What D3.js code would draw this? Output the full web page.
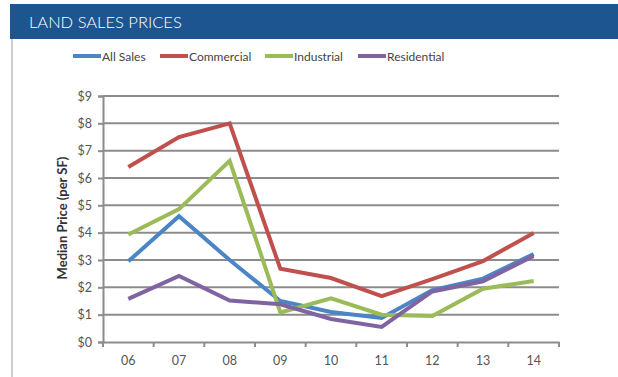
<!DOCTYPE html>
<html>
<head>
<meta charset="utf-8">
<script src="https://cdn.jsdelivr.net/npm/d3@7"></script>
<style>
  body { margin: 0; background: #fff; }
  svg { display: block; }
</style>
</head>
<body>
<div id="chart"></div>
<script>
// values
const years = ["06", "07", "08", "09", "10", "11", "12", "13", "14"];
const allSales = [2.95, 4.6, 3.0, 1.5, 1.1, 0.88, 1.9, 2.32, 3.22];
const commercial = [6.4, 7.5, 8.0, 2.68, 2.34, 1.68, 2.3, 2.96, 3.99];
const industrial = [3.93, 4.86, 6.63, 1.08, 1.6, 1.0, 0.95, 1.95, 2.23];
const residential = [1.58, 2.42, 1.52, 1.38, 0.84, 0.55, 1.85, 2.22, 3.15];
const seriesNames = ["All Sales", "Commercial", "Industrial", "Residential"];
const seriesColors = ["#4a86c5", "#c0504d", "#9bbb59", "#8064a2"];
const yTicks = [0, 1, 2, 3, 4, 5, 6, 7, 8, 9];

const series = [allSales, commercial, industrial, residential];

const W = 618, H = 377;
const font = "Lato, sans-serif";
const svg = d3.select("#chart").append("svg")
    .attr("width", W)
    .attr("height", H);

// header bar
svg.append("rect")
    .attr("x", 10).attr("y", 4)
    .attr("width", W - 10).attr("height", 35)
    .attr("fill", "#1d5591");
svg.append("text")
    .attr("x", 29).attr("y", 28)
    .attr("fill", "#fff")
    .attr("font-family", font)
    .attr("font-weight", 300)
    .attr("font-size", "16.5px")
    .text("LAND SALES PRICES");

// left border of the panel
svg.append("line")
    .attr("x1", 12).attr("x2", 12)
    .attr("y1", 39).attr("y2", H)
    .attr("stroke", "#bbb")
    .attr("stroke-width", 1.5);

// scales
const x = d3.scaleBand().domain(years).range([103, 559]);
const y = d3.scaleLinear().domain([0, 9]).range([342, 96]);

// gridlines
svg.append("g")
    .selectAll("line")
    .data(yTicks.filter(d => d > 0))
    .join("line")
    .attr("x1", 103).attr("x2", 559)
    .attr("y1", d => y(d)).attr("y2", d => y(d))
    .attr("stroke", "#8c8c8c")
    .attr("stroke-width", 2);

// y axis
const yAxis = svg.append("g")
    .attr("transform", "translate(103,0)")
    .call(d3.axisLeft(y).tickValues(yTicks).tickFormat(d => "$" + d).tickSize(5).tickPadding(6));
yAxis.select(".domain").attr("stroke", "#8c8c8c").attr("stroke-width", 2);
yAxis.selectAll(".tick line").attr("stroke", "#8c8c8c").attr("stroke-width", 2);
yAxis.selectAll("text")
    .attr("fill", "#555")
    .attr("font-family", font)
    .attr("font-size", "12.5px");

// x axis
const xAxis = svg.append("g")
    .attr("transform", "translate(0,342)")
    .call(d3.axisBottom(x).tickSize(0).tickPadding(14));
xAxis.select(".domain").attr("stroke", "#8c8c8c").attr("stroke-width", 2);
xAxis.selectAll("text")
    .attr("fill", "#555")
    .attr("font-family", font)
    .attr("font-size", "12.5px");
// tick marks at band boundaries
svg.append("g")
    .selectAll("line")
    .data(years.concat(["end"]))
    .join("line")
    .attr("x1", (d, i) => i < years.length ? x(d) : x.range()[1])
    .attr("x2", (d, i) => i < years.length ? x(d) : x.range()[1])
    .attr("y1", 342).attr("y2", 347)
    .attr("stroke", "#8c8c8c")
    .attr("stroke-width", 2);

// y axis title
svg.append("text")
    .attr("transform", "translate(67,218) rotate(-90)")
    .attr("text-anchor", "middle")
    .attr("fill", "#333")
    .attr("font-family", font)
    .attr("font-weight", "bold")
    .attr("font-size", "13px")
    .text("Median Price (per SF)");

// lines
const line = d3.line()
    .x((d, i) => x(years[i]) + x.bandwidth() / 2)
    .y(d => y(d));

svg.append("g")
    .selectAll("path")
    .data(series)
    .join("path")
    .attr("d", line)
    .attr("fill", "none")
    .attr("stroke", (d, i) => seriesColors[i])
    .attr("stroke-width", 4)
    .attr("stroke-linejoin", "miter");

// legend
const legendX = [73, 160, 265, 358];
const legend = svg.append("g")
    .selectAll("g")
    .data(seriesNames)
    .join("g")
    .attr("transform", (d, i) => "translate(" + legendX[i] + ",56)");
legend.append("line")
    .attr("x1", 0).attr("x2", 28)
    .attr("y1", 0).attr("y2", 0)
    .attr("stroke", (d, i) => seriesColors[i])
    .attr("stroke-width", 4);
legend.append("text")
    .attr("x", 29).attr("y", 4.5)
    .attr("fill", "#444")
    .attr("font-family", font)
    .attr("font-size", "12px")
    .text(d => d);
</script>
</body>
</html>
